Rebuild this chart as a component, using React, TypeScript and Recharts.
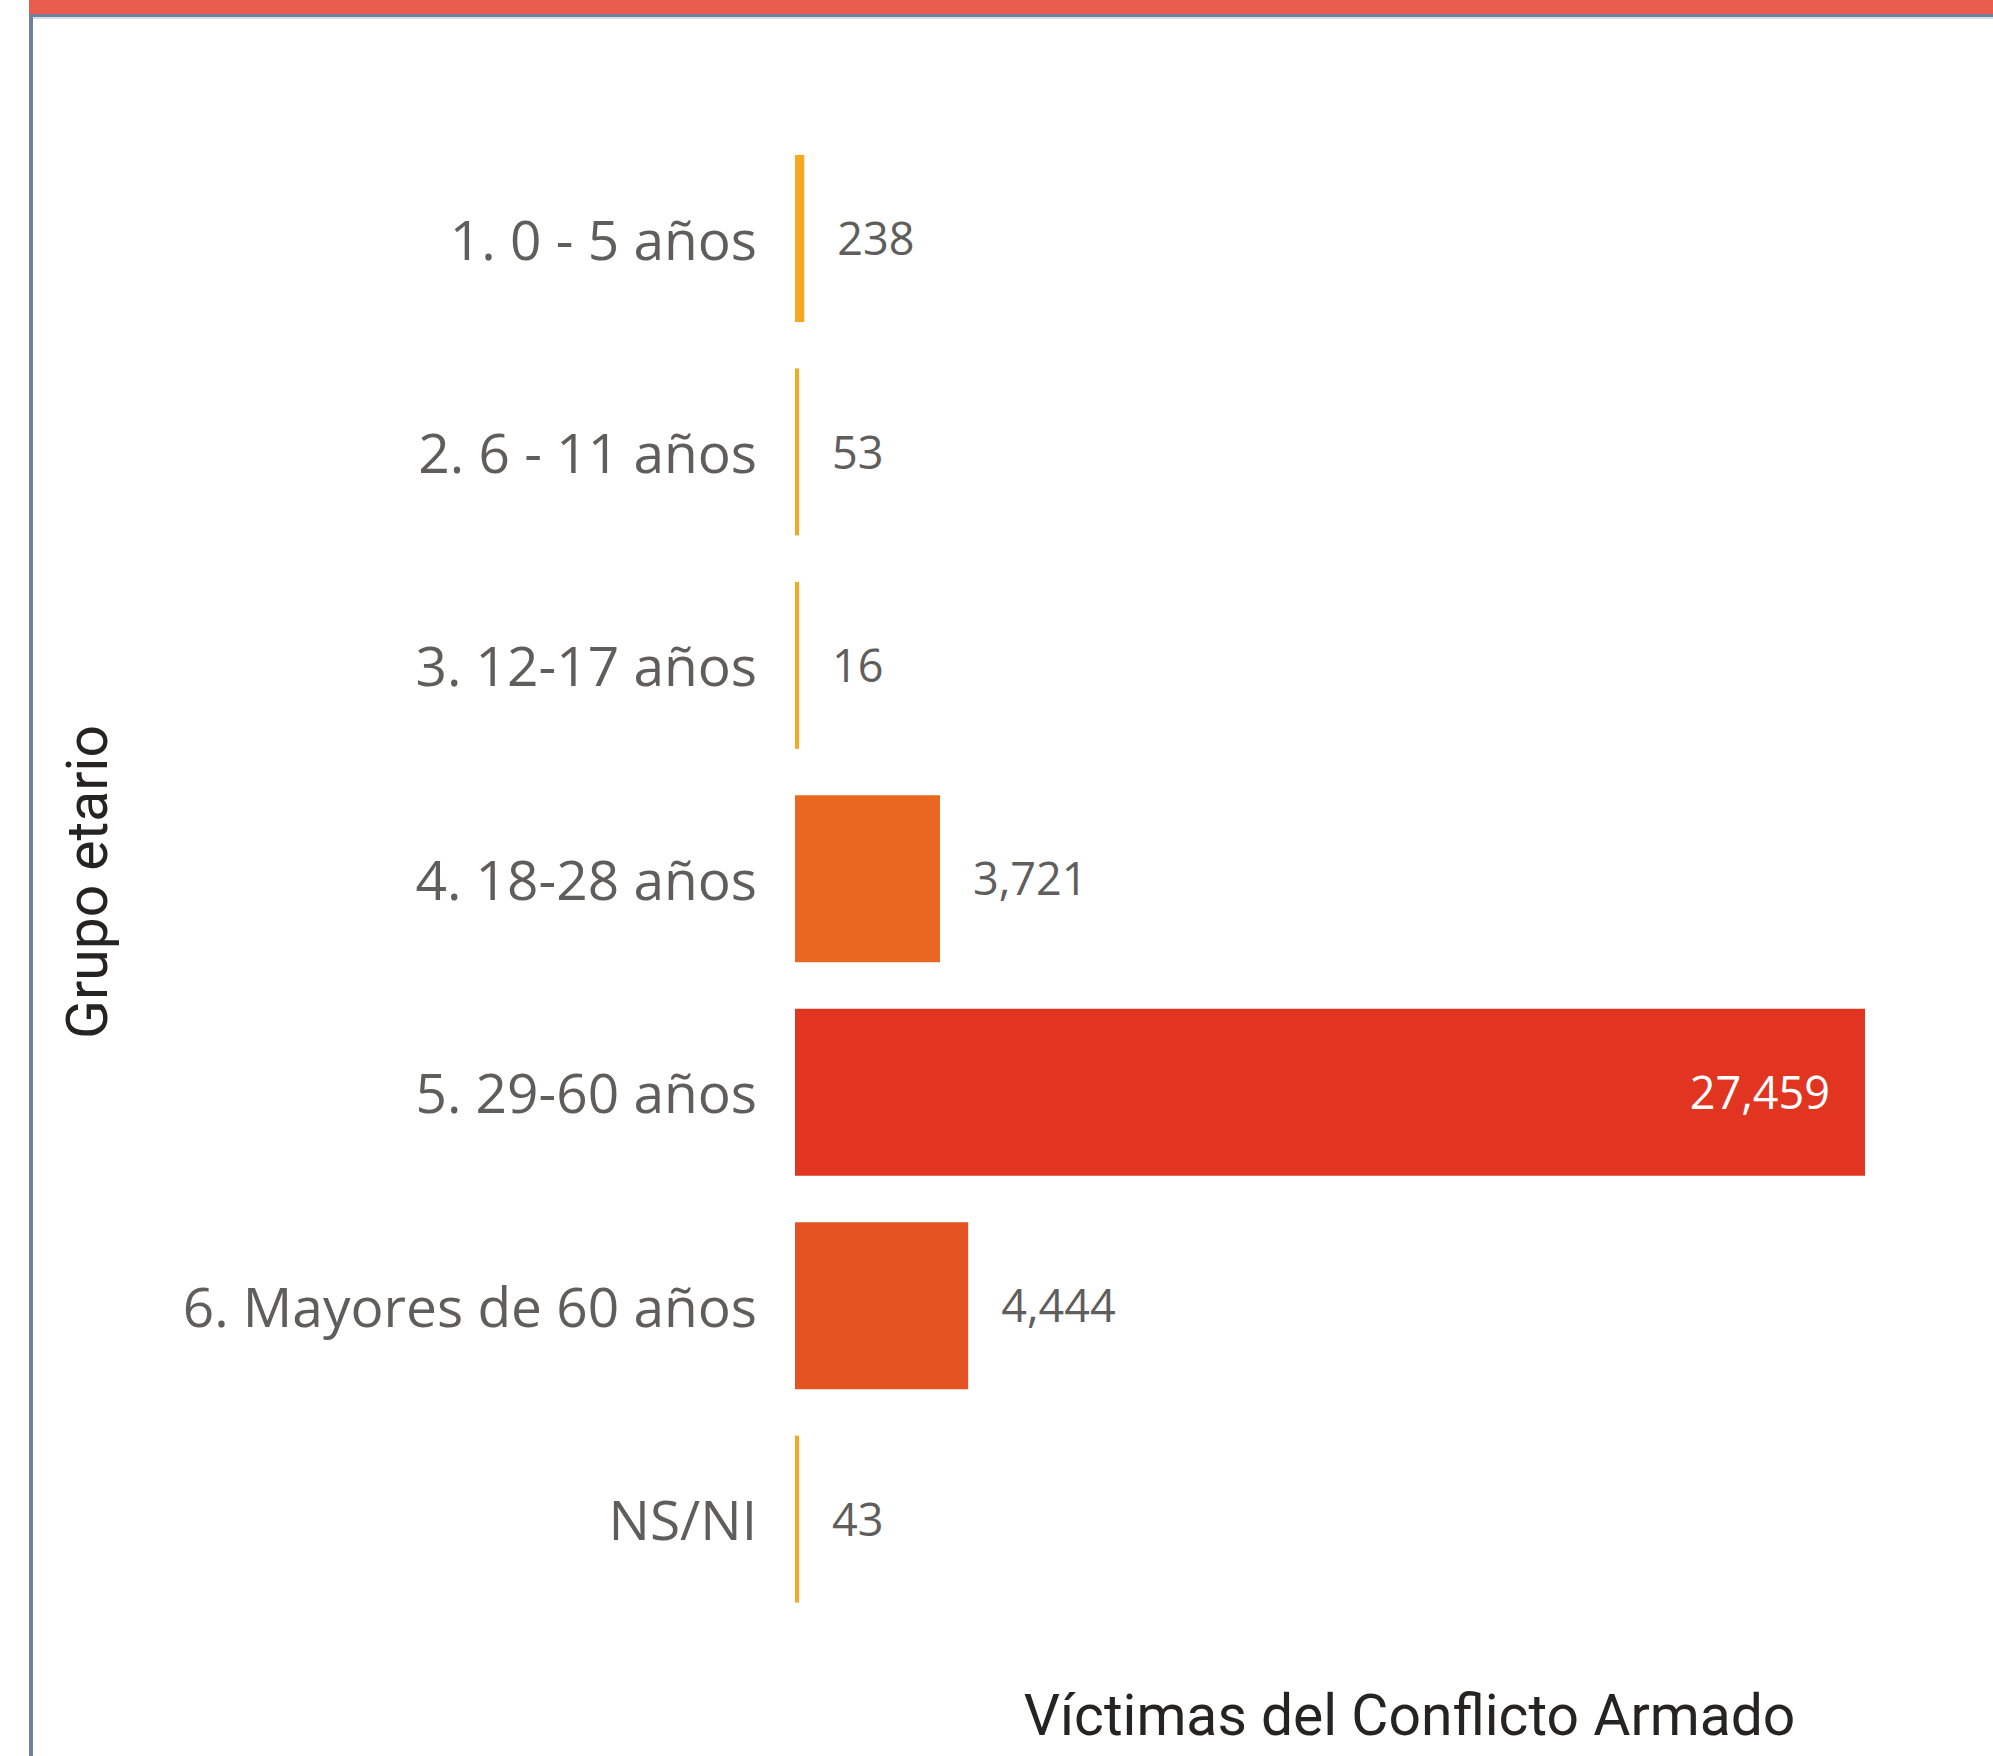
import { BarChart, Bar, XAxis, YAxis, Cell, LabelList, Label } from "recharts";

// Víctimas del conflicto armado por grupo etario
const groups = [
  "1. 0 - 5 años",
  "2. 6 - 11 años",
  "3. 12-17 años",
  "4. 18-28 años",
  "5. 29-60 años",
  "6. Mayores de 60 años",
  "NS/NI",
];
const victims = [238, 53, 16, 3721, 27459, 4444, 43];
const barColors = ["#F6A823", "#F6A823", "#F6A823", "#EA6722", "#E13421", "#E65322", "#F6A823"];

const data = groups.map((name, i) => ({ name, value: victims[i] }));

const labelFont = "'Segoe UI', 'Open Sans', sans-serif";
const titleFont = "'DIN', Roboto, sans-serif";

function GroupTick({ x, y, payload }: any) {
  return (
    <text x={x} y={y} dy="0.38em" textAnchor="end" fontFamily={labelFont} fontSize={55} fill="#605E5C">
      {payload.value}
    </text>
  );
}

function ValueLabel({ x, y, width, height, value }: any) {
  const text = Number(value).toLocaleString("en-US");
  const inside = width > 300;
  return (
    <text
      x={inside ? x + width - 35 : x + width + 33}
      y={y + height / 2}
      dy="0.37em"
      textAnchor={inside ? "end" : "start"}
      fontFamily={labelFont}
      fontSize={45}
      fill={inside ? "#FFFFFF" : "#605E5C"}
    >
      {text}
    </text>
  );
}

export default function App() {
  return (
    <div style={{ position: "absolute", left: 0, top: 0, width: 1993, height: 1756, background: "#fff" }}>
      {/* report frame */}
      <div style={{ position: "absolute", left: 29, top: 0, right: 0, height: 14, background: "#E85D4B" }} />
      <div style={{ position: "absolute", left: 29, top: 14, right: 0, height: 3, background: "#6F809C" }} />
      <div style={{ position: "absolute", left: 33, top: 17, right: 0, height: 2, background: "#D6DDE9" }} />
      <div style={{ position: "absolute", left: 29, top: 14, width: 4, bottom: 0, background: "#6F819C" }} />

      <div style={{ position: "absolute", left: 0, top: 0 }}>
        <BarChart
          width={1993}
          height={1756}
          data={data}
          layout="vertical"
          margin={{ top: 132, right: 29, bottom: 0, left: 0 }}
        >
          <XAxis
            type="number"
            domain={[0, 30000]}
            tick={false}
            axisLine={false}
            tickLine={false}
            height={130}
          >
            <Label
              content={({ viewBox }: any) => (
                <text
                  x={viewBox.x + viewBox.width / 2 + 30}
                  y={viewBox.y + 109}
                  textAnchor="middle"
                  fontFamily={titleFont}
                  fontWeight={400}
                  fontSize={57}
                  fill="#252423"
                >
                  Víctimas del Conflicto Armado
                </text>
              )}
            />
          </XAxis>
          <YAxis
            type="category"
            dataKey="name"
            width={795}
            axisLine={false}
            tickLine={false}
            tickSize={0}
            tickMargin={38}
            tick={<GroupTick />}
            interval={0}
          >
            <Label
              content={({ viewBox }: any) => {
                const cx = viewBox.x + 107;
                const cy = viewBox.y + viewBox.height / 2 + 3;
                return (
                  <text
                    x={cx}
                    y={cy}
                    transform={`rotate(-90, ${cx}, ${cy})`}
                    textAnchor="middle"
                    fontFamily={titleFont}
                    fontWeight={400}
                    fontSize={57}
                    fill="#252423"
                  >
                    Grupo etario
                  </text>
                );
              }}
            />
          </YAxis>
          <Bar dataKey="value" barSize={167} minPointSize={4} isAnimationActive={false}>
            {data.map((d, i) => (
              <Cell key={d.name} fill={barColors[i]} />
            ))}
            <LabelList dataKey="value" content={<ValueLabel />} />
          </Bar>
        </BarChart>
      </div>
    </div>
  );
}
